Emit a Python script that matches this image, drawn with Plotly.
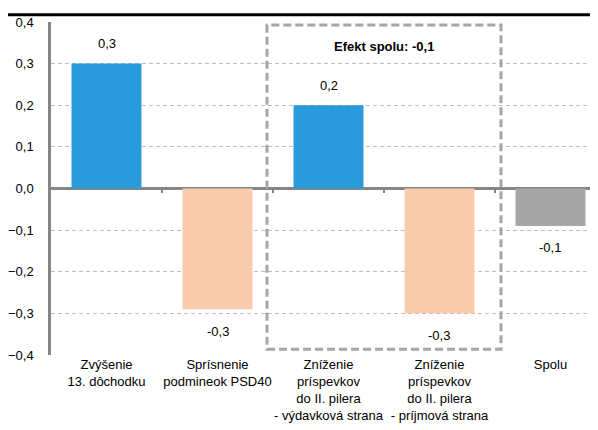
import plotly.graph_objects as go

categories = [
    "Zvýšenie<br>13. dôchodku",
    "Sprísnenie<br>podmineok PSD40",
    "Zníženie<br>príspevkov<br>do II. pilera<br>- výdavková strana",
    "Zníženie<br>príspevkov<br>do II. pilera<br>- príjmová strana",
    "Spolu",
]
values = [0.30, -0.29, 0.20, -0.30, -0.09]
bar_colors = ["#2B9ADB", "#F8CBAD", "#2B9ADB", "#F8CBAD", "#A6A6A6"]
y_ticks = [-0.4, -0.3, -0.2, -0.1, 0.0, 0.1, 0.2, 0.3, 0.4]
box_title = "<b>Efekt spolu: -0,1</b>"

xs = list(range(len(categories)))
font = dict(family="Liberation Sans, Arial, sans-serif", size=13, color="#000000")
xrange = [-0.5, 4.428]
ydom_top = 0.9597
xdom = [43 / 590, 1.0]

fig = go.Figure()
fig.add_trace(go.Bar(
    x=xs, y=values, marker=dict(color=bar_colors, line=dict(width=0)),
    width=0.63, showlegend=False, hoverinfo="skip",
))

for x, v in zip(xs, values):
    fig.add_annotation(
        x=x, y=v, text=f"{v:.1f}".replace(".", ","), showarrow=False,
        yshift=20 if v >= 0 else -22, font=font,
    )

fig.add_annotation(x=2.5, y=0.342, text=box_title, showarrow=False, font=font)

fig.add_shape(type="rect", xref="x", yref="y", x0=1.446, x1=3.554, y0=-0.386, y1=0.393,
              line=dict(color="#A6A6A6", width=3, dash="8px,4px"), layer="above")

# top rule
fig.add_shape(type="rect", xref="paper", yref="paper", x0=0, x1=1.0, y0=0.976, y1=0.985,
              fillcolor="#000000", line=dict(width=0), layer="above")

fig.update_layout(
    width=590, height=422,
    margin=dict(l=0, r=0, t=0, b=75, autoexpand=False),
    paper_bgcolor="white", plot_bgcolor="white",
    separators=", ",
    font=font,
    xaxis=dict(
        domain=xdom,
        range=xrange, tickmode="array", tickvals=xs, ticktext=categories,
        showgrid=False, zeroline=False, showline=False, ticks="",
        tickangle=0, automargin=False, tickfont=font,
    ),
    xaxis2=dict(
        domain=xdom,
        overlaying="x", anchor="free", position=ydom_top / 2, side="bottom",
        range=xrange, tickmode="array", tickvals=[0.5, 1.5, 2.5, 3.5],
        ticks="outside", ticklen=4, tickwidth=2, tickcolor="#868686",
        showticklabels=False, showgrid=False, zeroline=False, showline=False,
        automargin=False,
    ),
    yaxis=dict(
        domain=[0, ydom_top],
        range=[-0.4, 0.4], tickmode="array", tickvals=y_ticks, tickformat=".1f",
        showgrid=True, gridcolor="#BFBFBF", griddash="4px,3px", gridwidth=1,
        zeroline=True, zerolinecolor="#868686", zerolinewidth=2.5,
        showline=True, linecolor="#868686", linewidth=2.5,
        ticks="", ticklabelstandoff=12, tickfont=font, automargin=False,
    ),
)
fig.add_trace(go.Scatter(x=[None], y=[None], xaxis="x2", yaxis="y", showlegend=False))

fig.write_html("out.html", config={"displayModeBar": False})
